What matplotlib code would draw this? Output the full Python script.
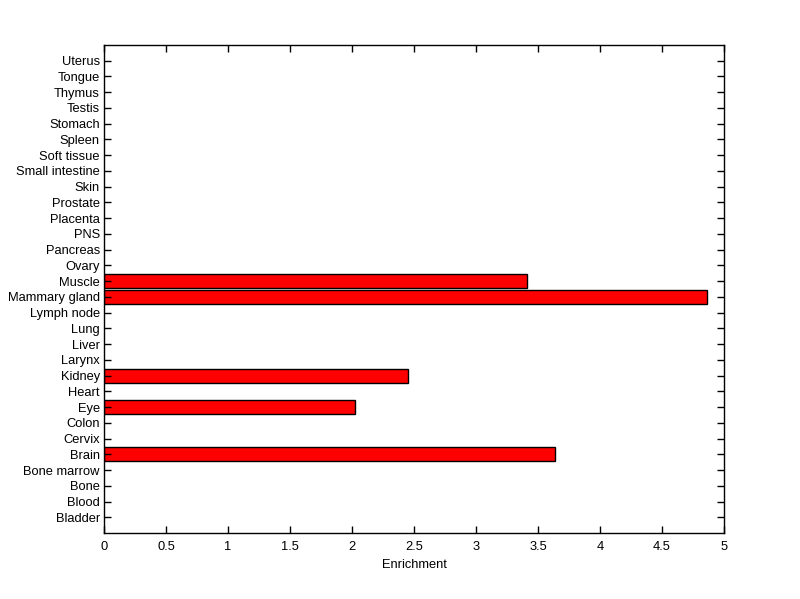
import numpy as np
import matplotlib
matplotlib.use("Agg")
import matplotlib.pyplot as plt

# tissues, bottom to top
tissues = ["Bladder", "Blood", "Bone", "Bone marrow", "Brain", "Cervix", "Colon", "Eye",
           "Heart", "Kidney", "Larynx", "Liver", "Lung", "Lymph node", "Mammary gland",
           "Muscle", "Ovary", "Pancreas", "PNS", "Placenta", "Prostate", "Skin",
           "Small intestine", "Soft tissue", "Spleen", "Stomach", "Testis", "Thymus",
           "Tongue", "Uterus"]

enrichment = [0, 0, 0, 0, 3.637, 0, 0, 2.027,
              0, 2.454, 0, 0, 0, 0, 4.865,
              3.414, 0, 0, 0, 0, 0, 0,
              0, 0, 0, 0, 0, 0,
              0, 0]

xticks = [0, 0.5, 1, 1.5, 2, 2.5, 3, 3.5, 4, 4.5, 5]

plt.rcParams['font.family'] = ['Liberation Sans', 'DejaVu Sans']
plt.rcParams['font.size'] = 9.3

fig = plt.figure(figsize=(8, 5.99), dpi=100)
ax = fig.add_axes([0.13, 0.11, 0.775, 0.815])

pos = np.arange(1, len(tissues) + 1)
vals = np.array(enrichment)
nz = vals > 0
ax.barh(pos[nz], vals[nz], height=0.9, color='#FF0000', edgecolor='black', linewidth=1)

ax.set_xlim(0, 5)
ax.set_ylim(0, len(tissues) + 1)
ax.set_xticks(xticks)
ax.set_xticklabels([f"{t:g}" for t in xticks])
ax.set_yticks(pos)
ax.set_yticklabels(tissues)
ax.set_xlabel("Enrichment", labelpad=4)

ax.tick_params(direction='in', top=True, right=True, length=5, width=1)
ax.tick_params(axis='x', pad=6)
ax.tick_params(axis='y', pad=3)
for s in ax.spines.values():
    s.set_linewidth(1)

fig.savefig("out.png", dpi=100)
